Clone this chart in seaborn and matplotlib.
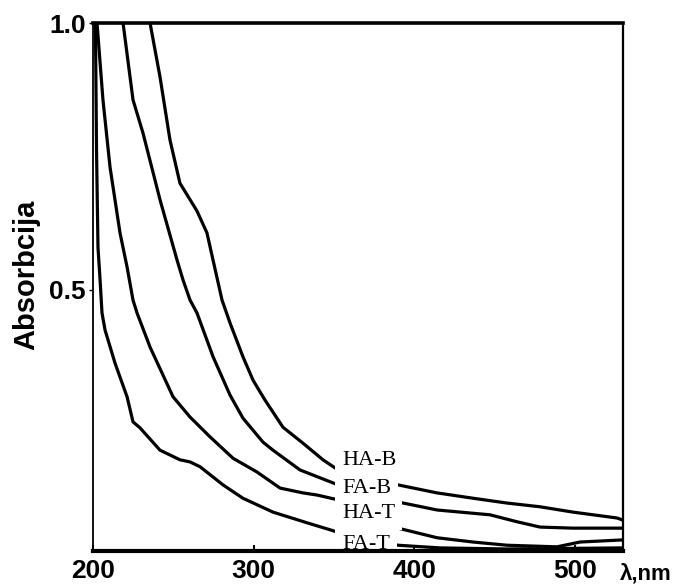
import numpy as np
import pandas as pd
import matplotlib
matplotlib.use("Agg")
import matplotlib.pyplot as plt
import seaborn as sns

# ---- data (wavelength in nm, absorbance) ----
wl_hab = [235.5, 241.7, 247.9, 254.1, 264.7, 270.9, 274.7, 280.3, 285.3, 293.3, 299.6, 307.0,
          318.2, 330.7, 343.1, 352.5, 389.8, 414.1, 436.5, 457.6, 478.2, 498.7, 526.1, 529.8]
abs_hab = [1.0, 0.899, 0.781, 0.700, 0.648, 0.607, 0.556, 0.481, 0.438, 0.375, 0.331, 0.294,
           0.243, 0.213, 0.182, 0.163, 0.135, 0.120, 0.110, 0.101, 0.094, 0.084, 0.073, 0.069]

wl_fab = [218.7, 224.9, 231.1, 241.7, 252.3, 256.0, 260.4, 264.7, 274.7, 285.3, 293.3, 305.8,
          312.0, 328.8, 352.5, 389.8, 414.1, 447.0, 463.8, 478.2, 498.7, 529.8]
abs_fab = [1.0, 0.856, 0.794, 0.669, 0.556, 0.519, 0.481, 0.457, 0.375, 0.303, 0.260, 0.215,
           0.200, 0.163, 0.135, 0.103, 0.088, 0.079, 0.066, 0.056, 0.054, 0.054]

wl_hat = [202.5, 206.2, 210.6, 216.8, 221.2, 224.9, 227.4, 235.5, 249.8, 260.4, 272.8, 287.1,
          302.1, 316.4, 330.7, 339.4, 352.5, 389.8, 414.1, 436.5, 457.6, 488.7, 503.0, 529.8]
abs_hat = [1.0, 0.856, 0.730, 0.607, 0.543, 0.481, 0.457, 0.393, 0.300, 0.262, 0.225, 0.185,
           0.159, 0.129, 0.120, 0.116, 0.107, 0.054, 0.036, 0.028, 0.022, 0.019, 0.028, 0.032]

wl_fat = [201.5, 202.2, 203.1, 204.4, 205.6, 207.5, 213.7, 221.2, 224.9, 229.2, 241.7, 254.1,
          260.4, 266.6, 280.9, 293.3, 312.0, 333.2, 351.8, 389.8, 415.9, 457.6, 529.8]
abs_fat = [1.0, 0.76, 0.58, 0.519, 0.457, 0.425, 0.363, 0.300, 0.253, 0.242, 0.200, 0.182,
           0.178, 0.169, 0.135, 0.110, 0.084, 0.064, 0.047, 0.022, 0.017, 0.015, 0.017]

series_names = ["HA-B", "FA-B", "HA-T", "FA-T"]
label_x = 354.9
label_y = [0.180, 0.129, 0.082, 0.024]

x_ticks = [200, 300, 400, 500]
y_ticks = [0.5, 1.0]
y_ticklabels = ["0.5", "1.0"]

# ---- build long table ----
frames = []
for name, w, a in zip(series_names,
                      [wl_hab, wl_fab, wl_hat, wl_fat],
                      [abs_hab, abs_fab, abs_hat, abs_fat]):
    frames.append(pd.DataFrame({"wl": w, "abs": a, "series": name}))
df = pd.concat(frames, ignore_index=True)

sns.set_theme(style="white")
plt.rcParams["font.family"] = ["Liberation Sans", "DejaVu Sans"]
for key in ["text.color", "axes.labelcolor", "xtick.color", "ytick.color", "axes.edgecolor"]:
    plt.rcParams[key] = "black"

fig = plt.figure(figsize=(6.82, 5.86), dpi=100)
ax = fig.add_axes([93 / 682, 1 - 551 / 586, 530 / 682, 528 / 586])

for name in series_names:
    sub = df[df["series"] == name]
    sns.lineplot(data=sub, x="wl", y="abs", ax=ax, color="black", linewidth=2.3,
                 sort=False, estimator=None, zorder=2)

for name, ly in zip(series_names, label_y):
    ax.text(label_x, ly, name, fontfamily=["Liberation Serif", "DejaVu Serif"], fontsize=16,
            ha="left", va="center", color="black", zorder=2.2,
            bbox=dict(facecolor="white", edgecolor="none", pad=5))

ax.set_xlim(200, 529.8)
ax.set_ylim(0.0112, 1.0)
ax.set_xticks(x_ticks)
ax.set_xticklabels([str(t) for t in x_ticks], fontsize=19, fontweight="bold")
ax.set_yticks(y_ticks)
ax.set_yticklabels(y_ticklabels, fontsize=19, fontweight="bold")
ax.tick_params(axis="x", direction="in", length=4, width=1.5, pad=6, colors="black",
               bottom=True)
ax.tick_params(axis="y", direction="out", length=3, width=1, pad=2, colors="black", left=True)
ax.set_xlabel("")
ax.set_ylabel("")

for side, lw in [("top", 2.6), ("bottom", 3.0), ("left", 1.3), ("right", 1.6)]:
    ax.spines[side].set_visible(True)
    ax.spines[side].set_color("black")
    ax.spines[side].set_linewidth(lw)
    ax.spines[side].set_zorder(3)

fig.text(26 / 682, 1 - 275 / 586, "Absorbcija", rotation=90, ha="center", va="center",
         fontsize=21, fontweight="bold", color="black")
fig.text(620 / 682, 1 - 574 / 586, "λ,nm", ha="left", va="center", fontsize=16,
         fontweight="bold", color="black")

fig.savefig("out.png", dpi=100, facecolor="white")
